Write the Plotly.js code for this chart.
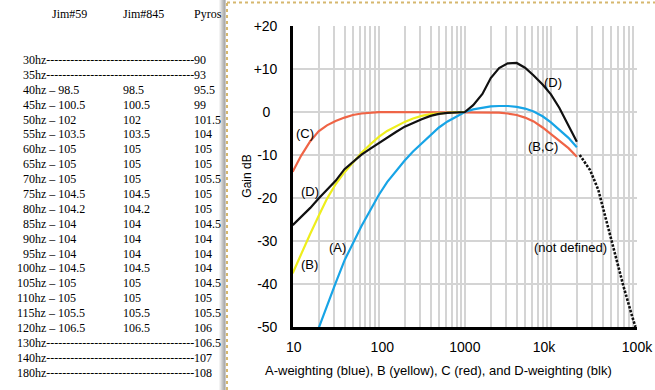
<!DOCTYPE html>
<html><head><meta charset="utf-8">
<script src="https://cdn.plot.ly/plotly-3.0.1.min.js"></script>
<style>html,body{margin:0;padding:0;background:#fff}#chart{width:655px;height:390px}</style>
</head><body><div id="chart"></div>
<script>
// ---------- table data (left side) ----------
const tableHeaders = ["Jim#59", "Jim#845", "Pyros"];
const tableFreqs = [30,35,40,45,50,55,60,65,70,75,80,85,90,95,100,105,110,115,120,130,140,180];
const jim59  = [null,null,98.5,100.5,102,103.5,105,105,105,104.5,104.2,104,104,104,104.5,105,105,105.5,106.5,null,null,null];
const jim845 = [null,null,98.5,100.5,102,103.5,105,105,105,104.5,104.2,104,104,104,104.5,105,105,105.5,106.5,null,null,null];
const pyros  = [90,93,95.5,99,101.5,104,105,105,105.5,105,105,104.5,104,104,104,104.5,105,105.5,106,106.5,107,108];

// ---------- weighting curves (Hz, dB) ----------
const freqA = [20,25,31.5,40,50,63,80,100,125,160,200,250,315,400,500,630,800,1000,1250,1600,2000,2500,3150,4000,5000,6300,8000,10000,12500,16000,20000];
const gainA = [-50.3,-45,-39.8,-34.5,-30.5,-26.5,-22.8,-19.3,-16.3,-13.6,-11.3,-9.2,-7.3,-5.4,-3.6,-2.2,-1.0,0,0.6,1.0,1.3,1.4,1.4,1.2,0.8,0.1,-1.0,-2.4,-4.2,-6.0,-8.2];

const freqB = [10,12.5,16,20,25,31.5,40,50,63,80,100,125,160,200,250,315,400,500,630,800,1000];
const gainB = [-37.5,-33,-28.3,-24.2,-20.2,-16.8,-14.0,-11.8,-9.5,-7.5,-5.8,-4.4,-3.2,-2.3,-1.5,-0.9,-0.5,-0.3,-0.15,-0.05,0];

const freqC = [10,12.5,16,20,25,31.5,40,50,63,80,100,125,200,1000,1600,2000,2500,3150,4000,5000,6300,8000,10000,12500,16000,20000];
const gainC = [-13.9,-10.2,-6.8,-4.5,-3.1,-2.1,-1.3,-0.7,-0.35,-0.15,-0.05,0,0,0,0,-0.05,-0.15,-0.35,-0.7,-1.3,-2.2,-3.6,-5.2,-6.7,-8.4,-10.4];

const freqD = [10,12.5,16,20,25,31.5,40,50,63,80,100,125,160,200,250,315,400,500,630,800,1000,1250,1600,2000,2500,3150,4000,5000,6300,8000,10000,12500,16000,20000];
const gainD = [-26.3,-24.5,-22.3,-20.1,-18.1,-16.0,-13.3,-11.6,-9.9,-8.5,-7.2,-5.9,-4.6,-3.4,-2.5,-1.7,-0.9,-0.45,-0.2,-0.1,0,1.6,4.2,7.9,10.2,11.3,11.4,10.3,8.5,6.4,4.1,1.0,-3.2,-6.9];

const freqUndef = [21600,28500,35500,44700,56000,69800,88100,96000];
const gainUndef = [-10,-13.5,-18.1,-25.9,-33.3,-40.6,-47.6,-50];

const xTickVals = [10,100,1000,10000,100000];
const xTickText = ["\u200a\u200a10","\u2002100","1000","10k\u2002\u2002","100k"];
const yTickVals = [20,10,0,-10,-20,-30,-40,-50];
const yTickText = ["+20","+10","0\u2002","-10","-20","-30","-40","-50"];

const curveLabels = ["(C)","(D)","(B)","(A)","(D)","(B,C)","(not defined)"];
const xTitle = "A-weighting (blue), B (yellow), C (red), and D-weighting (blk)";
const yTitle = "Gain dB";

// ---------- helpers ----------
const W = 655, H = 390;
const px = v => v / W;
const py = v => 1 - v / H;

const minorVals = [];
[10,100,1000,10000].forEach(d => { for (let m = 2; m <= 9; m++) minorVals.push(m*d); });

const traces = [
  {x: freqC, y: gainC, mode:'lines', line:{color:'#ef6446', width:2.2}},
  {x: freqA, y: gainA, mode:'lines', line:{color:'#17a4e6', width:2.2}},
  {x: freqB, y: gainB, mode:'lines', line:{color:'#eeee1c', width:2.2}},
  {x: freqD, y: gainD, mode:'lines', line:{color:'#111111', width:2.2}},
  {x: freqUndef, y: gainUndef, mode:'lines', line:{color:'#111111', width:2.6, dash:'2.5px,1.5px'}}
];

const annotations = [];
const serif = {family:'"Liberation Serif", "Times New Roman", Times, serif', size:12, color:'#000'};
const headerX = [51, 121.7, 193.3];
tableHeaders.forEach((h,i) => annotations.push({xref:'paper', yref:'paper', x:px(headerX[i]-1), y:py(14), text:h, showarrow:false, xanchor:'left', yanchor:'middle', font:serif}));
tableFreqs.forEach((f,i) => {
  const y = py(60 + i*14.89);
  const x0 = f >= 100 ? 16 : 22;
  let t1;
  if (jim59[i] === null) t1 = f + "hz" + "-".repeat(37);
  else t1 = f + "hz \u2013 " + jim59[i];
  annotations.push({xref:'paper', yref:'paper', x:px(x0-1), y:y, text:t1, showarrow:false, xanchor:'left', yanchor:'middle', font:serif});
  if (jim845[i] !== null) annotations.push({xref:'paper', yref:'paper', x:px(121.7-1), y:y, text:String(jim845[i]), showarrow:false, xanchor:'left', yanchor:'middle', font:serif});
  annotations.push({xref:'paper', yref:'paper', x:px(193.3-1), y:y, text:String(pyros[i]), showarrow:false, xanchor:'left', yanchor:'middle', font:serif});
});

const sans = {family:'Arial, "Liberation Sans", Helvetica, sans-serif', size:13, color:'#000'};
const labelPos = [[305,133],[310,191.7],[309,264],[337.7,247.7],[552.7,82.3],[542.7,146.7],[570,247.3]];
curveLabels.forEach((t,i) => annotations.push({xref:'paper', yref:'paper', x:px(labelPos[i][0]), y:py(labelPos[i][1]), text:t, showarrow:false, xanchor:'center', yanchor:'middle', font:sans}));
annotations.push({xref:'paper', yref:'paper', x:px(438.3), y:py(370), text:xTitle, showarrow:false, xanchor:'center', yanchor:'middle', font:sans});
annotations.push({xref:'paper', yref:'paper', x:px(246.7), y:py(176), text:yTitle, textangle:-90, showarrow:false, xanchor:'center', yanchor:'middle', font:{family:sans.family, size:12, color:'#000'}});

const shapes = [];
const shadeCols = ['#f3f3f3','#e6e6e6','#d6d6d6','#c6c6c6','#b8b8b8','#acacac','#c8c8c8'];
shadeCols.forEach((c,i) => shapes.push({type:'rect', xref:'paper', yref:'paper', x0:px(219+i), x1:px(220+i), y0:0, y1:1, fillcolor:c, line:{width:0}, layer:'below'}));
shapes.push({type:'line', xref:'paper', yref:'paper', x0:px(227), x1:1, y0:py(2.5), y1:py(2.5), line:{color:'#d6b76e', width:2, dash:'dot'}});
shapes.push({type:'line', xref:'paper', yref:'paper', x0:px(227), x1:px(227), y0:0, y1:py(2.5), line:{color:'#d6b76e', width:2, dash:'dot'}});

const gridCol = '#d4d4d4';
const layout = {
  width: W, height: H,
  margin: {l:0, r:0, t:0, b:0},
  paper_bgcolor: '#ffffff', plot_bgcolor: '#ffffff',
  showlegend: false,
  font: {family: sans.family, color:'#000'},
  xaxis: {type:'log', range:[1,5], domain:[px(292.7), px(637)],
    tickmode:'array', tickvals:xTickVals, ticktext:xTickText, tickfont:{size:14, color:'#000'},
    showgrid:true, gridcolor:gridCol, gridwidth:2,
    minor:{tickmode:'array', tickvals:minorVals, showgrid:true, gridcolor:gridCol, gridwidth:2, ticks:''},
    showline:true, linecolor:'#000', linewidth:2.5, ticks:'', zeroline:false, ticklabelstandoff:6, fixedrange:true},
  yaxis: {range:[-50,20], domain:[1-327/H, 1-26/H],
    tickmode:'array', tickvals:yTickVals, ticktext:yTickText, tickfont:{size:14, color:'#000'},
    showgrid:true, gridcolor:gridCol, gridwidth:2,
    showline:true, linecolor:'#000', linewidth:2.5, ticks:'', zeroline:false, ticklabelstandoff:10, fixedrange:true},
  annotations: annotations,
  shapes: shapes
};
Plotly.newPlot('chart', traces, layout, {staticPlot:true, displayModeBar:false});
</script>
</body></html>
